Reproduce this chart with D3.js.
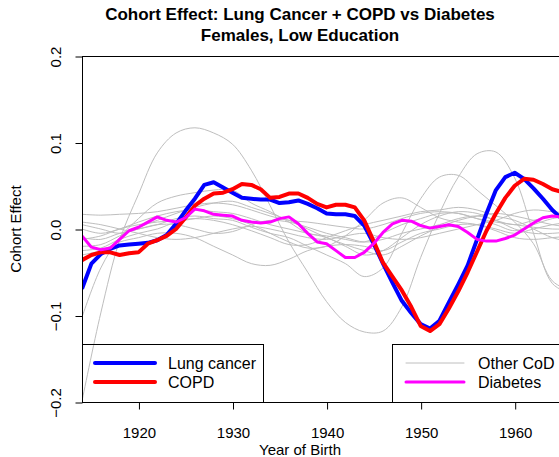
<!DOCTYPE html>
<html>
<head>
<meta charset="utf-8">
<script src="https://cdn.jsdelivr.net/npm/d3@7"></script>
<style>
  body { margin: 0; background: #fff; }
  svg { display: block; font-family: "Liberation Sans", Arial, Helvetica, sans-serif; }
</style>
</head>
<body>
<div id="chart"></div>
<script>
// yearly values for the highlighted causes
const years = d3.range(1914, 1967);
const lungCancer = [-0.069, -0.040, -0.029, -0.023, -0.019, -0.018, -0.017, -0.016, -0.013, -0.007,
  0.006, 0.021, 0.035, 0.051, 0.054, 0.048, 0.042, 0.036, 0.035, 0.034,
  0.034, 0.030, 0.031, 0.033, 0.029, 0.024, 0.018, 0.017, 0.017, 0.015,
  0.004, -0.017, -0.040, -0.062, -0.083, -0.097, -0.110, -0.115, -0.106, -0.085,
  -0.064, -0.042, -0.012, 0.018, 0.045, 0.060, 0.065, 0.058, 0.047, 0.035,
  0.022, 0.012, 0.005];
const copd = [-0.036, -0.030, -0.027, -0.027, -0.030, -0.028, -0.027, -0.017, -0.013, -0.008,
  0.000, 0.013, 0.027, 0.035, 0.041, 0.042, 0.046, 0.052, 0.051, 0.046,
  0.036, 0.037, 0.041, 0.041, 0.036, 0.029, 0.025, 0.028, 0.028, 0.025,
  0.010, -0.014, -0.039, -0.055, -0.071, -0.090, -0.112, -0.118, -0.110, -0.092,
  -0.072, -0.050, -0.026, -0.002, 0.018, 0.036, 0.050, 0.058, 0.057, 0.052,
  0.046, 0.043, 0.040];
const diabetes = [-0.008, -0.021, -0.024, -0.022, -0.012, -0.002, 0.002, 0.008, 0.014, 0.010,
  0.008, 0.013, 0.023, 0.021, 0.017, 0.016, 0.015, 0.010, 0.008, 0.007,
  0.008, 0.012, 0.014, 0.006, -0.005, -0.015, -0.017, -0.025, -0.033, -0.033,
  -0.027, -0.017, -0.004, 0.006, 0.010, 0.009, 0.004, 0.001, 0.003, 0.005,
  0.003, -0.004, -0.012, -0.014, -0.014, -0.011, -0.007, 0.000, 0.007, 0.013,
  0.015, 0.014, 0.012];

// other causes of death, every second year
const otherYears = d3.range(1914, 1967, 2);
const otherCod = [
  [-0.199, -0.097, -0.013, 0.040, 0.088, 0.111, 0.117, 0.111, 0.098, 0.068, 0.027, -0.015, -0.050, -0.084,
   -0.108, -0.119, -0.118, -0.090, -0.033, 0.018, 0.060, 0.087, 0.089, 0.059, -0.005, -0.063, -0.075],
  [-0.102, -0.045, -0.010, 0.012, 0.030, 0.038, 0.042, 0.045, 0.045, 0.030, 0.020, 0.008, -0.005, -0.008,
   -0.012, -0.015, -0.005, 0.005, 0.012, 0.018, 0.018, 0.012, 0.005, -0.002, 0.005, 0.012, 0.015],
  [0.005, 0.000, -0.005, 0.000, 0.005, 0.012, 0.015, 0.012, 0.010, 0.002, -0.005, -0.010, -0.020, -0.030,
   -0.040, -0.055, -0.045, -0.005, 0.035, 0.060, 0.062, 0.045, 0.027, 0.008, -0.017, -0.060, -0.072],
  [0.017, 0.016, 0.017, 0.018, 0.020, 0.024, 0.028, 0.030, 0.028, 0.022, 0.015, 0.010, 0.008, 0.005,
   0.002, 0.000, 0.005, 0.012, 0.018, 0.020, 0.018, 0.012, 0.008, 0.005, 0.002, 0.000, 0.000],
  [-0.025, -0.022, -0.012, -0.005, 0.000, 0.008, 0.012, 0.015, 0.012, 0.005, -0.005, -0.015, -0.022, -0.020,
   -0.008, 0.010, 0.030, 0.036, 0.025, 0.013, 0.008, 0.005, -0.002, -0.010, -0.012, -0.010, -0.008],
  [-0.030, -0.025, -0.015, -0.010, -0.005, -0.005, -0.010, -0.020, -0.030, -0.040, -0.042, -0.035, -0.025, -0.020,
   -0.018, -0.020, -0.025, -0.015, -0.005, 0.000, 0.005, 0.005, 0.000, -0.005, 0.000, 0.005, 0.008],
  [0.000, -0.005, 0.000, 0.008, 0.015, 0.020, 0.022, 0.020, 0.018, 0.012, 0.005, 0.000, -0.005, -0.010,
   -0.020, -0.030, -0.025, -0.010, 0.005, 0.015, 0.020, 0.018, 0.010, 0.005, 0.010, 0.015, 0.018],
  [-0.010, -0.012, -0.005, 0.000, 0.005, 0.005, 0.000, -0.005, -0.003, 0.005, 0.010, 0.008, 0.002, -0.005,
   -0.010, -0.015, -0.012, -0.005, 0.000, 0.005, 0.012, 0.015, 0.010, 0.000, -0.005, -0.005, -0.003],
  [-0.020, -0.018, -0.008, 0.002, 0.010, 0.018, 0.025, 0.030, 0.032, 0.025, 0.018, 0.010, 0.000, -0.010,
   -0.018, -0.025, -0.030, -0.020, -0.008, 0.002, 0.010, 0.015, 0.018, 0.015, 0.010, 0.005, 0.002],
  [0.008, 0.005, 0.000, -0.005, -0.010, -0.012, -0.010, -0.005, 0.000, 0.003, 0.000, -0.005, -0.010, -0.012,
   -0.008, -0.005, -0.010, -0.012, -0.010, -0.005, 0.000, 0.005, 0.010, 0.018, 0.022, 0.020, 0.018],
  [-0.012, -0.008, 0.000, 0.005, 0.008, 0.010, 0.012, 0.010, 0.005, -0.002, -0.010, -0.018, -0.018, -0.010,
   -0.002, 0.005, 0.010, 0.015, 0.020, 0.022, 0.025, 0.022, 0.015, 0.010, 0.000, -0.010, -0.015]
];

const xTicks = [1920, 1930, 1940, 1950, 1960];
const yTicks = [-0.2, -0.1, 0.0, 0.1, 0.2];

const W = 559, H = 457;
const plot = { left: 82, top: 56, bottom: 402, right: 620 };

const svg = d3.select('#chart').append('svg')
  .attr('width', W)
  .attr('height', H);

const x = d3.scaleLinear().domain([1914, 1960]).range([82, 514.7]);
const y = d3.scaleLinear().domain([-0.2, 0.2]).range([plot.bottom, plot.top]);

// clip to plotting region like R does
svg.append('clipPath').attr('id', 'plotClip')
  .append('rect')
  .attr('x', plot.left).attr('y', plot.top)
  .attr('width', plot.right - plot.left).attr('height', plot.bottom - plot.top);

const lines = svg.append('g').attr('clip-path', 'url(#plotClip)');

const grayLine = d3.line()
  .x((d, i) => x(otherYears[i]))
  .y(d => y(d))
  .curve(d3.curveCatmullRom.alpha(0.5));

otherCod.forEach(series => {
  lines.append('path')
    .attr('d', grayLine(series))
    .attr('fill', 'none')
    .attr('stroke', '#bebebe')
    .attr('stroke-width', 1);
});

const yearLine = d3.line()
  .x((d, i) => x(years[i]))
  .y(d => y(d));

const mainSeries = [
  { values: lungCancer, color: '#0000ff', width: 4 },
  { values: copd, color: '#ff0000', width: 4 },
  { values: diabetes, color: '#ff00ff', width: 3 }
];
mainSeries.forEach(s => {
  lines.append('path')
    .attr('d', yearLine(s.values))
    .attr('fill', 'none')
    .attr('stroke', s.color)
    .attr('stroke-width', s.width)
    .attr('stroke-linejoin', 'round');
});

// box
svg.append('rect')
  .attr('x', plot.left + 0.5).attr('y', plot.top + 0.5)
  .attr('width', plot.right - plot.left).attr('height', plot.bottom - plot.top)
  .attr('fill', 'none')
  .attr('stroke', '#000')
  .attr('stroke-width', 1);

// axes
const xAxis = svg.append('g')
  .attr('transform', `translate(0.5, ${plot.bottom + 0.5})`)
  .call(d3.axisBottom(x).tickValues(xTicks).tickFormat(d3.format('d')).tickSize(7).tickPadding(18));
xAxis.select('.domain').remove();
xAxis.selectAll('text').attr('font-size', 15).attr('fill', '#000').attr('font-family', null);
xAxis.selectAll('line').attr('stroke', '#000');

const yAxis = svg.append('g')
  .attr('transform', `translate(${plot.left + 0.5}, 0.5)`)
  .call(d3.axisLeft(y).tickValues(yTicks).tickSize(7).tickFormat(d => d3.format('.1f')(d).replace('-', '\u2212')));
yAxis.select('.domain').remove();
yAxis.selectAll('line').attr('stroke', '#000');
yAxis.selectAll('text')
  .attr('font-size', 15).attr('fill', '#000').attr('font-family', null)
  .attr('x', null).attr('dy', null)
  .attr('text-anchor', 'middle')
  .attr('transform', 'translate(-22, 0) rotate(-90)');

// titles
const title = svg.append('g').attr('font-weight', 'bold').attr('font-size', 17).attr('text-anchor', 'middle');
title.append('text').attr('x', 300).attr('y', 20).text('Cohort Effect: Lung Cancer + COPD vs Diabetes');
title.append('text').attr('x', 300).attr('y', 41).text('Females, Low Education');

svg.append('text')
  .attr('x', 300).attr('y', 455)
  .attr('text-anchor', 'middle')
  .attr('font-size', 15)
  .text('Year of Birth');

svg.append('text')
  .attr('transform', `translate(21, ${(plot.top + plot.bottom) / 2}) rotate(-90)`)
  .attr('text-anchor', 'middle')
  .attr('font-size', 15)
  .text('Cohort Effect');

// legends
const legendLeft = [
  { label: 'Lung cancer', color: '#0000ff', width: 4 },
  { label: 'COPD', color: '#ff0000', width: 4 }
];
const legendRight = [
  { label: 'Other CoD', color: '#bebebe', width: 1 },
  { label: 'Diabetes', color: '#ff00ff', width: 3 }
];

const drawLegend = (items, bx, bw, lineX0, lineX1, textX) => {
  const g = svg.append('g');
  g.append('rect')
    .attr('x', bx + 0.5).attr('y', 344.5)
    .attr('width', bw).attr('height', plot.bottom - 344)
    .attr('fill', 'none').attr('stroke', '#000');
  items.forEach((d, i) => {
    const ly = 363 + i * 19;
    g.append('line')
      .attr('x1', lineX0).attr('x2', lineX1)
      .attr('y1', ly).attr('y2', ly)
      .attr('stroke', d.color).attr('stroke-width', d.width)
      .attr('stroke-linecap', 'round');
    g.append('text')
      .attr('x', textX).attr('y', ly + 6)
      .attr('font-size', 16)
      .text(d.label);
  });
};
drawLegend(legendLeft, 82, 181, 95, 155, 168);
drawLegend(legendRight, 392, 200, 406, 464, 478);
</script>
</body>
</html>
